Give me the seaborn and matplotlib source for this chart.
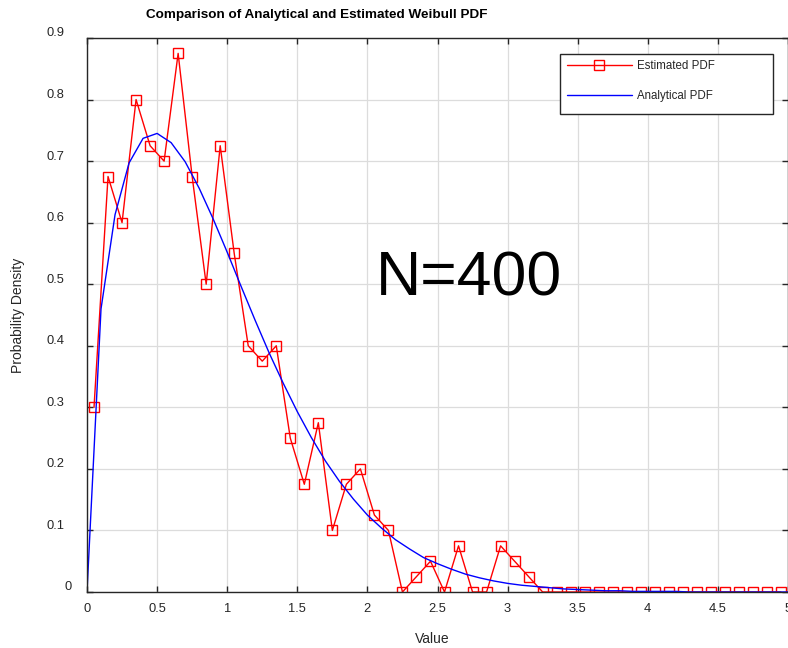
import numpy as np
import pandas as pd
import matplotlib
matplotlib.use("Agg")
from matplotlib import pyplot as plt
from matplotlib.patches import Rectangle
from matplotlib.transforms import ScaledTranslation
import seaborn as sns

# estimated pdf (histogram bin centres, N=400, bin width 0.1)
est_x = [0.05, 0.15, 0.25, 0.35, 0.45, 0.55, 0.65, 0.75, 0.85, 0.95,
         1.05, 1.15, 1.25, 1.35, 1.45, 1.55, 1.65, 1.75, 1.85, 1.95,
         2.05, 2.15, 2.25, 2.35, 2.45, 2.55, 2.65, 2.75, 2.85, 2.95,
         3.05, 3.15, 3.25, 3.35, 3.45, 3.55, 3.65, 3.75, 3.85, 3.95,
         4.05, 4.15, 4.25, 4.35, 4.45, 4.55, 4.65, 4.75, 4.85, 4.95]
est_y = [0.300, 0.675, 0.600, 0.800, 0.725, 0.700, 0.875, 0.675, 0.500, 0.725,
         0.550, 0.400, 0.375, 0.400, 0.250, 0.175, 0.275, 0.100, 0.175, 0.200,
         0.125, 0.100, 0.000, 0.025, 0.050, 0.000, 0.075, 0.000, 0.000, 0.075,
         0.050, 0.025, 0.000, 0.000, 0.000, 0.000, 0.000, 0.000, 0.000, 0.000,
         0.000, 0.000, 0.000, 0.000, 0.000, 0.000, 0.000, 0.000, 0.000, 0.000]

# analytical pdf, read at 0.1 steps
ana_x = [0.0, 0.1, 0.2, 0.3, 0.4, 0.5, 0.6, 0.7, 0.8, 0.9,
         1.0, 1.1, 1.2, 1.3, 1.4, 1.5, 1.6, 1.7, 1.8, 1.9,
         2.0, 2.1, 2.2, 2.3, 2.4, 2.5, 2.6, 2.7, 2.8, 2.9,
         3.0, 3.1, 3.2, 3.3, 3.4, 3.5, 3.6, 3.7, 3.8, 3.9,
         4.0, 4.1, 4.2, 4.3, 4.4, 4.5, 4.6, 4.7, 4.8, 4.9, 5.0]
ana_y = [0.000, 0.460, 0.613, 0.697, 0.737, 0.745, 0.730, 0.699, 0.656, 0.606,
         0.552, 0.496, 0.441, 0.388, 0.339, 0.293, 0.251, 0.213, 0.180, 0.151,
         0.125, 0.104, 0.085, 0.070, 0.056, 0.046, 0.037, 0.029, 0.023, 0.018,
         0.014, 0.011, 0.009, 0.007, 0.005, 0.004, 0.003, 0.002, 0.002, 0.001,
         0.001, 0.001, 0.001, 0.000, 0.000, 0.000, 0.000, 0.000, 0.000, 0.000, 0.000]

x_ticks = [0, 0.5, 1, 1.5, 2, 2.5, 3, 3.5, 4, 4.5, 5]
y_ticks = [0, 0.1, 0.2, 0.3, 0.4, 0.5, 0.6, 0.7, 0.8, 0.9]

sns.set_style("whitegrid")
plt.rcParams["font.family"] = ["Liberation Sans", "DejaVu Sans"]

fig = plt.figure(figsize=(7.88, 6.48), dpi=100)
ax = fig.add_axes([87 / 788, 1 - 592 / 648, 701 / 788, 554 / 648])

sns.lineplot(x=est_x, y=est_y, ax=ax, color="#ff0000", linewidth=1,
             marker="s", markersize=7.5, markerfacecolor="none",
             markeredgecolor="#ff0000", markeredgewidth=1,
             label="Estimated PDF")
sns.lineplot(x=ana_x, y=ana_y, ax=ax, color="#0000ff", linewidth=1,
             label="Analytical PDF")

ax.set_xticks(x_ticks)
ax.set_yticks(y_ticks)
ax.set_xticklabels([f"{v:g}" for v in x_ticks])
ax.set_yticklabels([f"{v:g}" for v in y_ticks])
ax.grid(True, color="#dcdcdc", linewidth=0.9)
for s in ax.spines.values():
    s.set_color("#262626")
    s.set_linewidth(1.0)
ax.tick_params(direction="in", length=4, width=1, color="#262626",
               labelcolor="#262626", labelsize=9.3, top=True, right=True,
               bottom=True, left=True)
ax.tick_params(axis="x", pad=8)
ax.tick_params(axis="y", pad=16)

# matlab-ish label offsets: y labels sit a bit high, "0" a bit to the right
up = ScaledTranslation(0, 6 / 100, fig.dpi_scale_trans)
for lab in ax.get_yticklabels():
    t = up
    if lab.get_text() == "0":
        t = ScaledTranslation(7 / 100, 6 / 100, fig.dpi_scale_trans)
    lab.set_transform(lab.get_transform() + t)

ax.set_xlabel("Value", fontsize=10, color="#262626")
ax.set_ylabel("Probability Density", fontsize=10, color="#262626")
ax.xaxis.set_label_coords((432 - 87) / 701, -(639 - 592) / 554)
ax.yaxis.set_label_coords((18 - 87) / 701, 0.5)
ax.xaxis.label.set_va("center")
ax.yaxis.label.set_va("center")

fig.text(317 / 788, 1 - 15 / 648, "Comparison of Analytical and Estimated Weibull PDF",
         ha="center", va="center", fontsize=9.7, fontweight="bold", color="black")

ax.text(2.06, 0.482, "N=400", fontsize=45, ha="left", va="baseline", color="black")

# legend with a wide matlab style box
frame = Rectangle((560 / 788, 1 - 114 / 648), 213 / 788, 60 / 648,
                  transform=fig.transFigure, facecolor="white",
                  edgecolor="#262626", linewidth=1.0, zorder=4.5, clip_on=False)
ax.add_patch(frame)
leg = ax.legend(loc="center left", bbox_to_anchor=(567 / 788, 1 - 81 / 648),
                bbox_transform=fig.transFigure, fontsize=8.3, frameon=False,
                handlelength=5.6, handletextpad=0.5, borderpad=0,
                labelspacing=1.6, borderaxespad=0)

ax.set_xlim(0, 5)
ax.set_ylim(0, 0.9)

fig.savefig("out.png", dpi=100)
